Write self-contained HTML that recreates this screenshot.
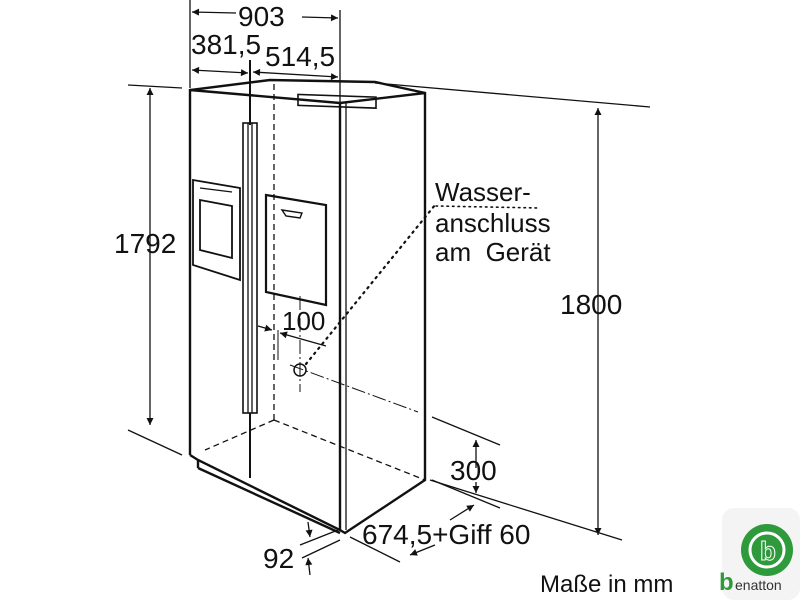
<!DOCTYPE html>
<html><head><meta charset="utf-8"><style>
html,body{margin:0;padding:0;background:#fff;width:800px;height:600px;overflow:hidden}
text{font-family:"Liberation Sans",sans-serif;fill:#111}
</style></head><body>
<svg width="800" height="600" viewBox="0 0 800 600" xmlns="http://www.w3.org/2000/svg">
<defs>
<marker id="a" viewBox="0 0 10 10" refX="10" refY="5" markerWidth="9" markerHeight="7" orient="auto-start-reverse" markerUnits="userSpaceOnUse"><path d="M0,0 L10,5 L0,10 z" fill="#111"/></marker>
</defs>
<g stroke="#111" fill="none" stroke-width="1.3">
<line x1="190" y1="0" x2="190" y2="88"/>
<line x1="340" y1="10" x2="340" y2="120"/>
<line x1="192" y1="12" x2="236" y2="13" marker-start="url(#a)"/>
<line x1="302" y1="17" x2="338" y2="18" marker-end="url(#a)"/>
<line x1="192" y1="70" x2="248" y2="73" marker-start="url(#a)" marker-end="url(#a)"/>
<line x1="253" y1="72" x2="338" y2="77" marker-start="url(#a)" marker-end="url(#a)"/>
<line x1="128" y1="85" x2="182" y2="88"/>
<line x1="150" y1="88" x2="150" y2="425" marker-start="url(#a)" marker-end="url(#a)"/>
<line x1="128" y1="430" x2="182" y2="455"/>
<g stroke-width="2.4">
<polyline points="190,455 190,90 270,80 375,82 425,93 425,480 345,533 340,530 198,460 190,455"/>
<line x1="190" y1="90" x2="340" y2="103"/>
<line x1="340" y1="103" x2="425" y2="93"/>
<line x1="340" y1="103" x2="340" y2="530"/>
<line x1="198" y1="460" x2="198" y2="468"/>
<line x1="198" y1="468" x2="340" y2="533"/>
</g>
<line x1="346" y1="103" x2="346" y2="530"/>
<rect x="298" y="84" width="78" height="11" stroke-width="1.6" transform="skewY(2)"/>
<line x1="250" y1="60" x2="250" y2="125" stroke-width="2"/>
<rect x="243" y="123" width="14" height="290" stroke-width="1.6"/>
<line x1="248" y1="123" x2="248" y2="413"/><line x1="252" y1="123" x2="252" y2="413"/>
<line x1="250" y1="413" x2="250" y2="478" stroke-width="2"/>
<polygon points="193,180 240,188 240,280 193,265" stroke-width="1.8"/>
<polygon points="200,200 232,206 232,258 200,250" stroke-width="1.8"/>
<line x1="200" y1="188" x2="232" y2="192"/>
<polygon points="266,195 326,205 326,305 266,292" stroke-width="2.2"/>
<polygon points="282,210 302,213 300,218 286,216" stroke-width="1.4"/>
<g stroke-dasharray="6,4">
<line x1="274" y1="84" x2="274" y2="420"/>
<line x1="274" y1="420" x2="205" y2="450"/>
<line x1="274" y1="420" x2="425" y2="480"/>
</g>
<line x1="300" y1="296" x2="300" y2="392" stroke-dasharray="14,3,2,3" stroke-width="1"/>
<line x1="290" y1="365" x2="418" y2="412" stroke-dasharray="14,3,2,3" stroke-width="1"/>
<circle cx="300" cy="370" r="6" stroke-width="1.5"/>
<line x1="278" y1="330" x2="278" y2="360" stroke-width="1"/>
<line x1="326" y1="346" x2="280" y2="333" marker-end="url(#a)"/>
<line x1="258" y1="326" x2="272" y2="330" marker-end="url(#a)"/>
<line x1="306" y1="364" x2="435" y2="205" stroke-dasharray="1.5,5" stroke-width="2.2" stroke-linecap="round"/>
<line x1="436" y1="206" x2="540" y2="208" stroke-dasharray="1.5,4" stroke-width="1.6" stroke-linecap="round"/>
<line x1="375" y1="83" x2="650" y2="107"/>
<line x1="598" y1="108" x2="598" y2="535" marker-start="url(#a)" marker-end="url(#a)"/>
<line x1="430" y1="480" x2="622" y2="540"/>
<line x1="432" y1="417" x2="500" y2="445"/>
<line x1="432" y1="480" x2="500" y2="508"/>
<line x1="476" y1="440" x2="476" y2="468" marker-start="url(#a)"/>
<line x1="476" y1="482" x2="476" y2="493" marker-end="url(#a)" />
<line x1="450" y1="520" x2="474" y2="505" marker-end="url(#a)"/>
<line x1="350" y1="537" x2="400" y2="562"/>
<line x1="435" y1="545" x2="410" y2="555" marker-end="url(#a)"/>
<line x1="300" y1="545" x2="338" y2="530"/>
<line x1="302" y1="558" x2="340" y2="540"/>
<line x1="308" y1="522" x2="310" y2="537" marker-end="url(#a)"/>
<line x1="310" y1="575" x2="308" y2="558" marker-end="url(#a)"/>
</g>
<g font-size="28">
<text x="238" y="26">903</text>
<text x="191" y="54">381,5</text>
<text x="265" y="66">514,5</text>
<text x="114" y="253">1792</text>
<text x="560" y="314">1800</text>
<text x="282" y="330" font-size="26">100</text>
<text x="450" y="480">300</text>
<text x="362" y="544">674,5+Giff 60</text>
<text x="263" y="568">92</text>
<text x="435" y="201" font-size="26">Wasser-</text>
<text x="435" y="232" font-size="26">anschluss</text>
<text x="435" y="261" font-size="26">am&#160; Gerät</text>
<text x="540" y="592" font-size="24">Maße in mm</text>
</g>
<rect x="722" y="508" width="78" height="92" rx="12" fill="#f4f4f4"/>
<circle cx="767" cy="550" r="26" fill="#2e9a3c"/>
<circle cx="767" cy="550" r="17" fill="none" stroke="#fff" stroke-width="3"/>
<text x="760" y="560" font-size="26" font-weight="bold" style="fill:#2e9a3c;stroke:#fff;stroke-width:1">b</text>
<text x="719" y="590" font-size="24" font-weight="bold" style="fill:#2e9a3c">b</text>
<text x="735" y="590" font-size="14" style="fill:#333">enatton</text>
</svg>
</body></html>
